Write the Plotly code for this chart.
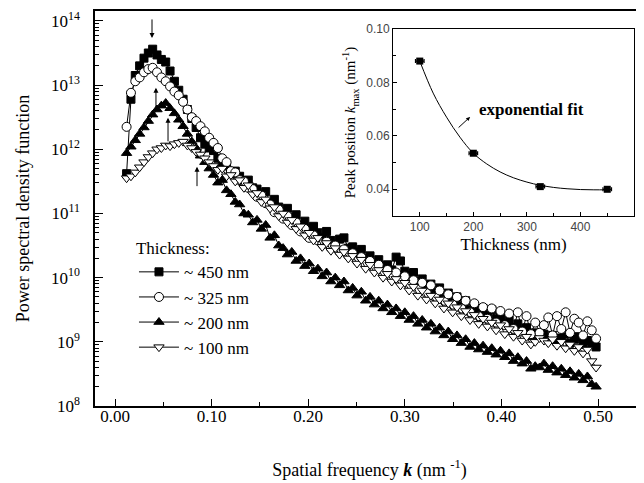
import plotly.graph_objects as go

# ---------------- data ----------------
k = [0.0120, 0.0165, 0.0210, 0.0255, 0.0300, 0.0345, 0.0390, 0.0435, 0.0480, 0.0525,
     0.0570, 0.0615, 0.0660, 0.0705, 0.0750, 0.0795, 0.0840, 0.0885, 0.0930, 0.0975,
     0.1020, 0.1065, 0.1110, 0.1155, 0.1200, 0.1245, 0.1290, 0.1335, 0.1380, 0.1425,
     0.1470, 0.1515, 0.1560, 0.1605, 0.1650, 0.1695, 0.1740, 0.1785, 0.1830, 0.1875,
     0.1920, 0.1965, 0.2010, 0.2055, 0.2100, 0.2145, 0.2190, 0.2235, 0.2280, 0.2325,
     0.2370, 0.2415, 0.2460, 0.2505, 0.2550, 0.2595, 0.2640, 0.2685, 0.2730, 0.2775,
     0.2820, 0.2865, 0.2910, 0.2955, 0.3000, 0.3045, 0.3090, 0.3135, 0.3180, 0.3225,
     0.3270, 0.3315, 0.3360, 0.3405, 0.3450, 0.3495, 0.3540, 0.3585, 0.3630, 0.3675,
     0.3720, 0.3765, 0.3810, 0.3855, 0.3900, 0.3945, 0.3990, 0.4035, 0.4080, 0.4125,
     0.4170, 0.4215, 0.4260, 0.4305, 0.4350, 0.4395, 0.4440, 0.4485, 0.4530, 0.4575,
     0.4620, 0.4665, 0.4710, 0.4755, 0.4800, 0.4845, 0.4890, 0.4935, 0.4980]

# log10 of power spectral density
log_psd_450 = [11.62, 12.78, 13.15, 13.30, 13.42, 13.50, 13.56, 13.47, 13.40, 13.36,
               13.22, 13.06, 12.92, 12.78, 12.62, 12.48, 12.34, 12.18, 12.08, 12.02,
               11.98, 11.86, 11.80, 11.74, 11.62, 11.66, 11.58, 11.48, 11.52, 11.40,
               11.38, 11.30, 11.34, 11.18, 11.22, 11.10, 11.02, 11.08, 10.94, 10.98,
               10.82, 10.88, 10.76, 10.80, 10.70, 10.62, 10.72, 10.58, 10.52, 10.60,
               10.62, 10.46, 10.48, 10.40, 10.44, 10.30, 10.34, 10.22, 10.28, 10.16,
               10.20, 10.12, 10.32, 10.26, 10.10, 10.04, 10.08, 9.94, 9.98, 9.86,
               9.90, 9.80, 9.84, 9.70, 9.76, 9.62, 9.70, 9.56, 9.64, 9.50,
               9.56, 9.44, 9.52, 9.40, 9.50, 9.36, 9.40, 9.28, 9.34, 9.22,
               9.28, 9.16, 9.22, 9.10, 9.14, 9.08, 9.12, 9.04, 9.10, 9.00,
               9.06, 9.12, 8.98, 9.04, 9.08, 8.96, 9.02, 8.98, 8.92]

log_psd_325 = [12.35, 12.88, 13.06, 13.12, 13.20, 13.25, 13.27, 13.20, 13.12, 13.06,
               12.98, 12.90, 12.84, 12.74, 12.62, 12.50, 12.44, 12.36, 12.28, 12.18,
               12.10, 12.02, 11.86, 11.80, 11.66, 11.64, 11.52, 11.50, 11.40, 11.38,
               11.26, 11.28, 11.16, 11.14, 11.02, 11.06, 10.92, 10.96, 10.82, 10.86,
               10.72, 10.76, 10.62, 10.66, 10.58, 10.52, 10.56, 10.46, 10.50, 10.40,
               10.44, 10.34, 10.38, 10.26, 10.32, 10.20, 10.26, 10.14, 10.20, 10.06,
               10.12, 10.00, 10.08, 9.94, 10.02, 9.88, 9.96, 9.82, 9.92, 9.76,
               9.88, 9.70, 9.80, 9.64, 9.74, 9.58, 9.70, 9.52, 9.64, 9.46,
               9.60, 9.40, 9.54, 9.36, 9.52, 9.30, 9.48, 9.26, 9.44, 9.20,
               9.46, 9.16, 9.40, 9.12, 9.30, 9.14, 9.26, 9.38, 9.10, 9.40,
               9.20, 9.46, 9.14, 9.36, 9.30, 9.10, 9.32, 9.18, 9.05]

log_psd_200 = [11.94, 12.04, 12.14, 12.24, 12.34, 12.44, 12.54, 12.62, 12.68, 12.72,
               12.64, 12.56, 12.46, 12.36, 12.24, 12.12, 12.02, 11.90, 11.80, 11.70,
               11.60, 11.48, 11.52, 11.36, 11.30, 11.18, 11.14, 11.00, 10.98, 10.86,
               10.90, 10.76, 10.82, 10.62, 10.66, 10.50, 10.46, 10.36, 10.40, 10.26,
               10.30, 10.18, 10.22, 10.10, 10.14, 10.02, 10.08, 9.94, 10.00, 9.88,
               9.94, 9.80, 9.84, 9.72, 9.78, 9.64, 9.70, 9.58, 9.64, 9.52,
               9.58, 9.46, 9.52, 9.40, 9.46, 9.34, 9.40, 9.28, 9.34, 9.22,
               9.28, 9.16, 9.22, 9.10, 9.16, 9.04, 9.10, 8.98, 9.04, 8.92,
               8.98, 8.88, 8.94, 8.84, 8.90, 8.80, 8.86, 8.76, 8.82, 8.70,
               8.76, 8.66, 8.70, 8.58, 8.62, 8.60, 8.66, 8.56, 8.62, 8.52,
               8.58, 8.48, 8.54, 8.44, 8.50, 8.40, 8.46, 8.34, 8.30]

log_psd_100 = [11.55, 11.58, 11.64, 11.72, 11.80, 11.88, 11.94, 12.00, 12.02, 12.06,
               12.05, 12.08, 12.10, 12.12, 12.06, 12.02, 11.96, 11.92, 11.86, 11.80,
               11.74, 11.68, 11.70, 11.58, 11.60, 11.50, 11.52, 11.40, 11.44, 11.30,
               11.32, 11.18, 11.22, 11.08, 11.10, 10.96, 11.00, 10.86, 10.90, 10.76,
               10.80, 10.66, 10.70, 10.58, 10.62, 10.48, 10.54, 10.42, 10.46, 10.36,
               10.40, 10.30, 10.34, 10.22, 10.28, 10.14, 10.20, 10.08, 10.12, 10.00,
               10.06, 9.94, 9.98, 9.88, 9.92, 9.80, 9.86, 9.72, 9.80, 9.66,
               9.72, 9.60, 9.66, 9.52, 9.60, 9.46, 9.54, 9.40, 9.48, 9.34,
               9.42, 9.28, 9.36, 9.24, 9.30, 9.18, 9.26, 9.12, 9.20, 9.08,
               9.14, 9.02, 9.08, 8.96, 9.00, 9.06, 9.02, 8.98, 9.04, 8.94,
               9.00, 8.90, 8.96, 8.86, 8.92, 8.82, 8.88, 8.70, 8.60]

series_names = ["~ 450 nm", "~ 325 nm", "~ 200 nm", "~ 100 nm"]

# inset
thickness = [100, 200, 325, 450]
k_max = [0.0880, 0.0535, 0.0410, 0.0400]
k_max_err = [0.0008, 0.0008, 0.0008, 0.0008]
thick_err = [8, 8, 8, 8]
fit_thickness = [100, 125, 150, 175, 200, 225, 250, 275, 300, 325, 350, 375, 400, 425, 450]
fit_kmax = [0.0880, 0.0760, 0.0670, 0.0595, 0.0535, 0.0495, 0.0465, 0.0443, 0.0427, 0.0415,
            0.0407, 0.0402, 0.0399, 0.0398, 0.0398]

y_tickvals = [1e8, 1e9, 1e10, 1e11, 1e12, 1e13, 1e14]
y_ticktext = ["10<sup>8</sup>", "10<sup>9</sup>", "10<sup>10</sup>", "10<sup>11</sup>",
              "10<sup>12</sup>", "10<sup>13</sup>", "10<sup>14</sup>"]

# ---------------- figure ----------------
SERIF = "Liberation Serif, Times New Roman, serif"
SANS = "Liberation Sans, Arial, sans-serif"
fig = go.Figure()


def to_lin(vals):
    return [10 ** v for v in vals]


styles = [
    (log_psd_450, "square", "black", 8, 1),
    (log_psd_200, "triangle-up", "black", 9, 3),
    (log_psd_325, "circle", "white", 9, 2),
    (log_psd_100, "triangle-down", "white", 9, 4),
]
for vals, sym, fill, size, rank in styles:
    fig.add_trace(go.Scatter(
        x=k, y=to_lin(vals), mode="lines+markers", name=series_names[rank - 1],
        legendrank=rank,
        line=dict(color="black", width=1),
        marker=dict(symbol=sym, size=size, color=fill, line=dict(color="black", width=1)),
        xaxis="x", yaxis="y",
    ))

# inset traces
fig.add_trace(go.Scatter(
    x=fit_thickness, y=fit_kmax, mode="lines", line=dict(color="black", width=1, shape="spline"),
    showlegend=False, xaxis="x2", yaxis="y2"))
fig.add_trace(go.Scatter(
    x=thickness, y=k_max, mode="markers",
    marker=dict(symbol="square", size=7, color="black"),
    error_x=dict(type="data", array=thick_err, color="black", thickness=1.2, width=2),
    error_y=dict(type="data", array=k_max_err, color="black", thickness=1.2, width=3),
    showlegend=False, xaxis="x2", yaxis="y2"))

tickfont_main = dict(family=SERIF, size=17, color="black")

# the page body has an 8px margin, so the figure is 8px smaller and margins compensate
fig.update_layout(
    width=636, height=475,
    margin=dict(l=87, r=0, t=3, b=77),
    paper_bgcolor="white", plot_bgcolor="white",
    font=dict(family=SERIF, color="black"),
    hovermode=False,
    xaxis=dict(
        range=[-0.0207, 0.5476], showgrid=False, zeroline=False, automargin=False,
        showline=True, linecolor="black", linewidth=1.5, mirror=True,
        ticks="inside", ticklen=7, tickwidth=1, tickcolor="black",
        tickvals=[0.0, 0.1, 0.2, 0.3, 0.4, 0.5],
        ticktext=["0.00", "0.10", "0.20", "0.30", "0.40", "0.50"],
        tickfont=tickfont_main, ticklabelstandoff=-6,
        minor=dict(ticks="inside", ticklen=4, tickwidth=1, tickcolor="black",
                   tickvals=[0.05, 0.15, 0.25, 0.35, 0.45]),
        title=dict(text="Spatial frequency <b><i>k</i></b> (nm <sup>-1</sup>)",
                   font=dict(family=SERIF, size=18), standoff=38),
    ),
    yaxis=dict(
        type="log", range=[8, 14.155], showgrid=False, zeroline=False, automargin=False,
        showline=True, linecolor="black", linewidth=1.5,
        ticks="inside", ticklen=8, tickwidth=1, tickcolor="black",
        tickvals=y_tickvals, ticktext=y_ticktext, tickfont=tickfont_main,
        ticklabelstandoff=10,
        minor=dict(ticks="inside", ticklen=4, tickwidth=1, tickcolor="black",
                   dtick="D1", showgrid=False),
        title=dict(text="Power spectral density function",
                   font=dict(family=SERIF, size=18), standoff=17),
    ),
    xaxis2=dict(
        domain=[0.5428, 0.9818], anchor="y2", range=[50, 500], automargin=False,
        showgrid=False, zeroline=False, showline=True, linecolor="black", linewidth=1,
        mirror=True, ticks="inside", ticklen=4, tickcolor="black",
        tickvals=[100, 200, 300, 400, 500],
        tickfont=dict(family=SANS, size=12, color="#444"),
        minor=dict(ticks="inside", ticklen=3, tickcolor="black",
                   tickvals=[150, 250, 350, 450]),
        title=dict(text="Thickness (nm)", font=dict(family=SERIF, size=17), standoff=4),
    ),
    yaxis2=dict(
        domain=[0.481, 0.9544], anchor="x2", range=[0.03, 0.10], automargin=False,
        showgrid=False, zeroline=False, showline=True, linecolor="black", linewidth=1,
        mirror=True, ticks="inside", ticklen=4, tickcolor="black",
        tickvals=[0.04, 0.06, 0.08, 0.10], tickformat=".2f",
        tickfont=dict(family=SANS, size=12, color="#444"),
        minor=dict(ticks="inside", ticklen=3, tickcolor="black",
                   tickvals=[0.05, 0.07, 0.09]),
        title=dict(text="Peak position <i>k</i><sub>max</sub> (nm<sup>-1</sup>)",
                   font=dict(family=SERIF, size=15), standoff=6),
    ),
    showlegend=True,
    legend=dict(
        x=0.071, y=0.440, xanchor="left", yanchor="top",
        bgcolor="rgba(0,0,0,0)", borderwidth=0,
        font=dict(family=SERIF, size=17, color="black"),
        title=dict(text="Thickness:", font=dict(family=SERIF, size=17)),
        tracegroupgap=0, itemwidth=40,
    ),
)

# arrows in main plot marking peak positions
arrows = [
    (0.0383, 13.735, 0, -20),
    (0.0424, 12.96, 0, 22),
    (0.0549, 12.49, 0, 25),
    (0.0849, 11.73, 0, 21),
]
for ax_x, ax_y, dx, dy in arrows:
    fig.add_annotation(x=ax_x, y=ax_y, xref="x", yref="y", ax=dx, ay=dy,
                       showarrow=True, arrowhead=2, arrowsize=1, arrowwidth=1,
                       arrowcolor="black", text="")

# inset annotation
fig.add_annotation(x=194, y=0.0671, xref="x2", yref="y2", ax=-13, ay=12,
                   showarrow=True, arrowhead=2, arrowsize=0.8, arrowwidth=1,
                   arrowcolor="black", text="")
fig.add_annotation(x=308, y=0.0697, xref="x2", yref="y2", showarrow=False,
                   text="<b>exponential fit</b>", font=dict(family=SERIF, size=17))

fig.write_html("out.html", config={"displayModeBar": False})
